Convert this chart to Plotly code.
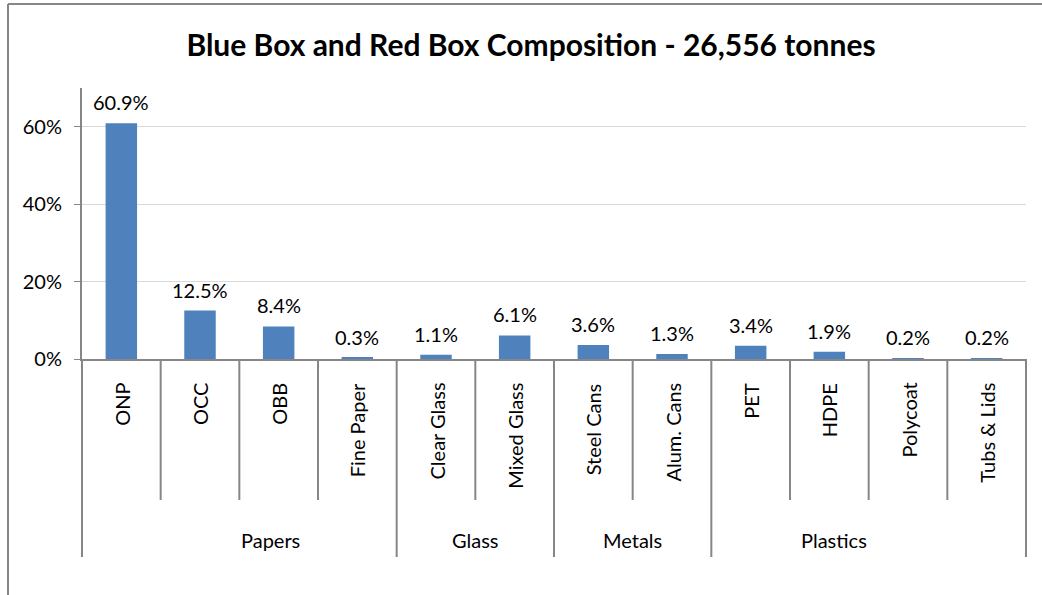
import plotly.graph_objects as go

# Material categories (inner axis level) and their parent groups (outer level)
materials = ["ONP", "OCC", "OBB", "Fine Paper", "Clear Glass", "Mixed Glass",
             "Steel Cans", "Alum. Cans", "PET", "HDPE", "Polycoat", "Tubs & Lids"]
groups = ["Papers", "Glass", "Metals", "Plastics"]
group_sizes = [4, 2, 2, 4]
share_pct = [60.9, 12.5, 8.4, 0.3, 1.1, 6.1, 3.6, 1.3, 3.4, 1.9, 0.2, 0.2]
y_ticks = [0, 20, 40, 60]
y_tick_text = ["0%", "20%", "40%", "60%"]

W, H = 1042, 595
ML, MR, MT, MB = 82, 16, 88, 236
PW, PH = W - ML - MR, H - MT - MB

FONT = "Lato"
GRAY = "#868686"
BLUE = "#4F81BD"
LABEL_SIZE = 20


def px_x(px):
    return (px - ML) / PW


def px_y(py):
    return (H - MB - py) / PH


fig = go.Figure(go.Bar(
    x=materials, y=share_pct, marker=dict(color=BLUE, line=dict(width=0)),
    hoverinfo="x+y",
))

annotations = []
# value labels above each bar
for m, v in zip(materials, share_pct):
    annotations.append(dict(x=m, y=v, xref="x", yref="y", text=f"{v:.1f}%",
                            showarrow=False, yanchor="bottom", yshift=7,
                            font=dict(family=FONT, size=LABEL_SIZE, color="#000")))
# rotated category labels
for m in materials:
    annotations.append(dict(x=m, y=px_y(381), xref="x", yref="paper", text=m,
                            textangle=-90, showarrow=False, yanchor="top",
                            xanchor="center",
                            font=dict(family=FONT, size=LABEL_SIZE, color="#000")))

shapes = []
n = len(materials)
# group labels and divider lines
start = 0
group_edges = {0}
for g, size in zip(groups, group_sizes):
    mid = (start + size / 2) / n
    annotations.append(dict(x=mid, y=px_y(540), xref="x domain", yref="paper",
                            text=g, showarrow=False, yanchor="middle",
                            font=dict(family=FONT, size=LABEL_SIZE, color="#000")))
    start += size
    group_edges.add(start)

for k in range(n + 1):
    bottom = 557 if k in group_edges else 500
    shapes.append(dict(type="line", xref="x domain", yref="paper",
                       x0=k / n, x1=k / n, y0=px_y(359), y1=px_y(bottom),
                       line=dict(color=GRAY, width=2)))

# outer chart frame (top and left edges)
shapes.append(dict(type="line", xref="paper", yref="paper",
                   x0=px_x(8), x1=px_x(W), y0=px_y(4), y1=px_y(4),
                   line=dict(color=GRAY, width=2)))
shapes.append(dict(type="line", xref="paper", yref="paper",
                   x0=px_x(8), x1=px_x(8), y0=px_y(4), y1=px_y(H),
                   line=dict(color=GRAY, width=2)))

fig.update_layout(
    width=W, height=H,
    margin=dict(l=ML, r=MR, t=MT, b=MB),
    paper_bgcolor="white", plot_bgcolor="white",
    showlegend=False,
    bargap=0.6,
    title=dict(text="<b>Blue Box and Red Box Composition - 26,556 tonnes</b>",
               x=531 / W, xanchor="center", y=1 - 45 / H, yanchor="middle",
               xref="container", yref="container",
               font=dict(family=FONT, size=30, color="#000")),
    xaxis=dict(showticklabels=False, ticks="", showgrid=False,
               showline=True, linecolor=GRAY, linewidth=2,
               range=[-0.5, n - 0.5], fixedrange=True),
    yaxis=dict(range=[0, 70], tickvals=y_ticks, ticktext=y_tick_text,
               showgrid=True, gridcolor="#D9D9D9", gridwidth=1,
               showline=True, linecolor=GRAY, linewidth=2,
               ticks="outside", ticklen=6, tickcolor=GRAY, tickwidth=1,
               ticklabelstandoff=8,
               zeroline=False,
               tickfont=dict(family=FONT, size=LABEL_SIZE, color="#000")),
    annotations=annotations,
    shapes=shapes,
)

fig.write_html("out.html")
